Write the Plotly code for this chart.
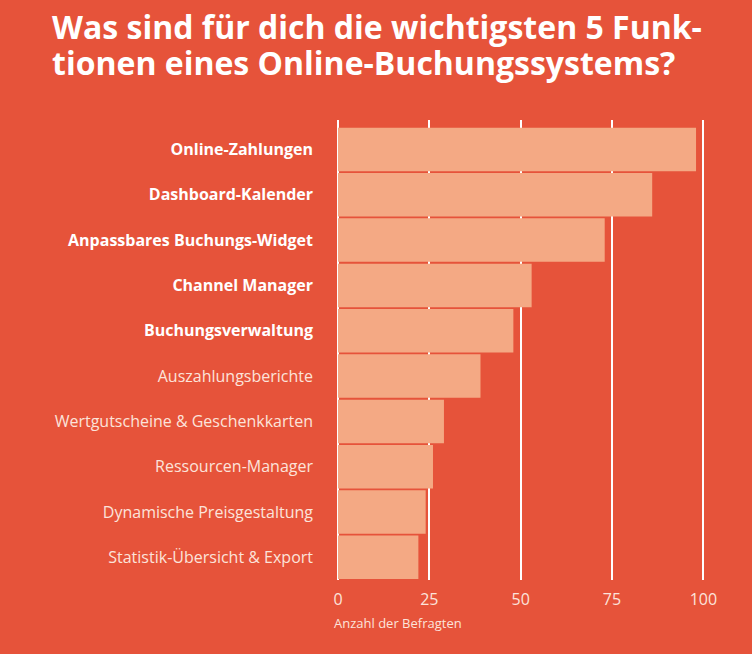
import plotly.graph_objects as go

categories = [
    "Online-Zahlungen",
    "Dashboard-Kalender",
    "Anpassbares Buchungs-Widget",
    "Channel Manager",
    "Buchungsverwaltung",
    "Auszahlungsberichte",
    "Wertgutscheine & Geschenkkarten",
    "Ressourcen-Manager",
    "Dynamische Preisgestaltung",
    "Statistik-Übersicht & Export",
]
values = [98, 86, 73, 53, 48, 39, 29, 26, 24, 22]
highlighted = [True, True, True, True, True, False, False, False, False, False]
x_ticks = [0, 25, 50, 75, 100]
title_lines = [
    "Was sind für dich die wichtigsten 5 Funk-",
    "tionen eines Online-Buchungssystems?",
]

BG = "#E6533A"
BAR = "#F4A984"
LIGHT = "#FCE3DA"

W, H = 752, 654
M_T, M_B, M_L, M_R = 120, 74, 338, 45
plot_h = H - M_T - M_B

ticktext = [
    f"<b>{c}</b>" if h else f"<span style='color:{LIGHT}'>{c}</span>"
    for c, h in zip(categories, highlighted)
]

fig = go.Figure(
    go.Bar(
        x=values,
        y=categories,
        orientation="h",
        marker=dict(color=BAR, line=dict(width=0)),
        hoverinfo="x+y",
    )
)

annotations = []
for i, line in enumerate(title_lines):
    y_px = 26 + i * 37  # vertical centre of the capitals
    annotations.append(
        dict(
            text=f"<b>{line}</b>",
            xref="paper",
            x=(50 - M_L) / (W - M_L - M_R),
            xanchor="left",
            yref="paper",
            y=1 + (M_T - y_px) / plot_h,
            yanchor="middle",
            showarrow=False,
            font=dict(family="Open Sans", size=32, color="white"),
        )
    )
annotations.append(
    dict(
        text="Anzahl der Befragten",
        xref="x",
        x=0,
        xanchor="left",
        xshift=-6,
        yref="paper",
        y=0,
        yanchor="middle",
        yshift=-43,
        showarrow=False,
        font=dict(size=13, color=LIGHT),
    )
)

fig.update_layout(
    width=W,
    height=H,
    paper_bgcolor=BG,
    plot_bgcolor=BG,
    margin=dict(l=M_L, r=M_R, t=M_T, b=M_B),
    bargap=0.04,
    showlegend=False,
    font=dict(family="Open Sans", color="white"),
    xaxis=dict(
        range=[0, 101],
        tickvals=x_ticks,
        ticktext=[str(v) for v in x_ticks],
        showgrid=True,
        gridcolor="white",
        gridwidth=1.5,
        zeroline=True,
        zerolinecolor="white",
        zerolinewidth=1.5,
        tickfont=dict(size=16, color=LIGHT),
        ticks="",
        ticklabelstandoff=8,
        showline=False,
    ),
    yaxis=dict(
        categoryorder="array",
        categoryarray=categories,
        autorange=False,
        range=[9.5, -0.65],
        tickvals=categories,
        ticktext=ticktext,
        tickfont=dict(size=16, color="white"),
        ticks="",
        ticklabelstandoff=24,
        showgrid=False,
        zeroline=False,
    ),
    annotations=annotations,
)

fig.write_html(
    "out.html",
    config={"displayModeBar": False},
    post_script="document.body.style.margin='0';",
)
